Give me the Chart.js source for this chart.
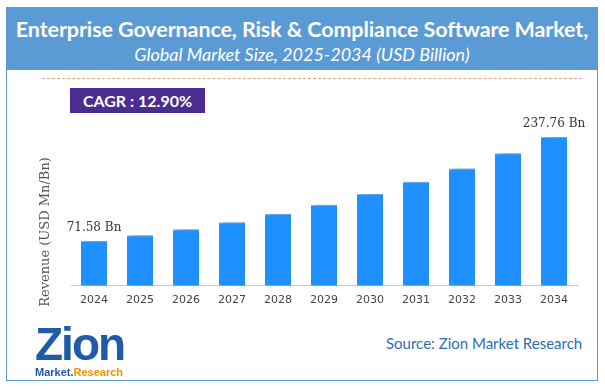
<!DOCTYPE html>
<html>
<head>
<meta charset="utf-8">
<script src="https://cdn.jsdelivr.net/npm/chart.js@4.4.0/dist/chart.umd.min.js"></script>
<style>
  body { margin: 0; background: #fff; }
  #wrap { position: relative; width: 605px; height: 389px; overflow: hidden; }
  #frame { position: absolute; left: 6px; top: 7px; width: 590px; height: 372px; border: 1px solid #5B9BD5; }
  #head { position: absolute; left: 6px; top: 7px; width: 592px; height: 63px; background: #5B9BD5; color: #fff; text-align: center; font-family: Lato, sans-serif; }
  #head .t1 { position: absolute; left: 0; right: 0; top: 9px; font-size: 21.5px; font-weight: bold; letter-spacing: -0.1px; }
  #head .t2 { position: absolute; left: 0; right: 0; top: 36px; font-size: 18px; font-style: italic; }
  #dash { position: absolute; left: 42px; top: 78px; width: 540px; border-top: 1px dashed #F2A572; }
  #cagr { position: absolute; left: 70px; top: 88px; width: 135px; height: 25px; background: #4B2C91; color: #fff; font-family: Lato, sans-serif; font-weight: bold; font-size: 16px; line-height: 25px; text-align: center; }
  #box { position: absolute; left: 0; top: 80px; width: 605px; height: 239px; }
  #logo { position: absolute; left: 35px; top: 322px; font-family: "Liberation Sans", Arial, sans-serif; }
  #logo .z { font-size: 46px; font-weight: bold; color: #1F5BA8; letter-spacing: -2px; line-height: 44px; }
  #logo .m { font-size: 11px; font-weight: bold; line-height: 12px; }
  #source { position: absolute; left: 386px; top: 334px; font-family: Lato, sans-serif; font-size: 15px; color: #2E6DB4; }
</style>
</head>
<body>
<div id="wrap">
  <div id="frame"></div>
  <div id="head">
    <div class="t1">Enterprise Governance, Risk &amp; Compliance Software Market,</div>
    <div class="t2">Global Market Size, 2025-2034 (USD Billion)</div>
  </div>
  <div id="dash"></div>
  <div id="cagr">CAGR : 12.90%</div>
  <div id="box"><canvas id="marketChart"></canvas></div>
  <div id="logo">
    <div class="z">Zion</div>
    <div class="m"><span style="color:#1F5BA8">Market.</span><span style="color:#F39200">Research</span></div>
  </div>
  <div id="source">Source: Zion Market Research</div>
</div>
<script>
// chart values
var years = ['2024', '2025', '2026', '2027', '2028', '2029', '2030', '2031', '2032', '2033', '2034'];
var revenue = [71.58, 80.8, 90.5, 101.6, 114.5, 129.5, 146.5, 166.2, 187.5, 211.5, 237.76];
var labelUnit = ' Bn';
var axisTitle = 'Revenue (USD Mn/Bn)';

// shadow behind the bars
var barShadow = {
    id: 'barShadow',
    beforeDatasetsDraw: function (chart) {
        var ctx = chart.ctx;
        ctx.save();
        ctx.shadowColor = 'rgba(0,0,0,0.4)';
        ctx.shadowBlur = 4;
        ctx.shadowOffsetX = 4;
        ctx.shadowOffsetY = 0;
    },
    afterDatasetsDraw: function (chart) {
        chart.ctx.restore();
    }
};

// value labels on first and last bar, plus the rotated axis title
var valueLabels = {
    id: 'valueLabels',
    afterDraw: function (chart) {
        var ctx = chart.ctx;
        var meta = chart.getDatasetMeta(0);
        ctx.save();
        ctx.font = '12px "DejaVu Serif", serif';
        ctx.fillStyle = '#333';
        ctx.textAlign = 'center';
        ctx.textBaseline = 'middle';
        [0, revenue.length - 1].forEach(function (i) {
            var bar = meta.data[i];
            ctx.fillText(revenue[i] + labelUnit, bar.x, bar.y - 13);
        });
        ctx.translate(46, 152);
        ctx.rotate(-Math.PI / 2);
        ctx.font = '13px "DejaVu Serif", serif';
        ctx.fillStyle = '#555';
        ctx.fillText(axisTitle, 0, 0);
        ctx.restore();
    }
};

document.addEventListener('DOMContentLoaded', function () {
    var ctx = document.getElementById('marketChart').getContext('2d');
    new Chart(ctx, {
        type: 'bar',
        data: {
            labels: years,
            datasets: [{
                data: revenue,
                backgroundColor: '#1E90FF',
                borderColor: '#7CC0FF',
                borderWidth: { top: 1, left: 0, right: 0, bottom: 0 },
                borderSkipped: false,
                barPercentage: 0.565,
                categoryPercentage: 1
            }]
        },
        options: {
            responsive: true,
            maintainAspectRatio: false,
            animation: false,
            layout: { padding: { left: 71, right: 28, top: 43, bottom: 4 } },
            plugins: { legend: { display: false }, tooltip: { enabled: false } },
            scales: {
                x: {
                    grid: { display: false, drawTicks: false },
                    border: { display: true, color: '#c8c8c8' },
                    ticks: { padding: 8, color: '#444', font: { family: 'DejaVu Sans', size: 11 } }
                },
                y: { display: false, min: 0, max: 260 }
            }
        },
        plugins: [barShadow, valueLabels]
    });
});
</script>
</body>
</html>
